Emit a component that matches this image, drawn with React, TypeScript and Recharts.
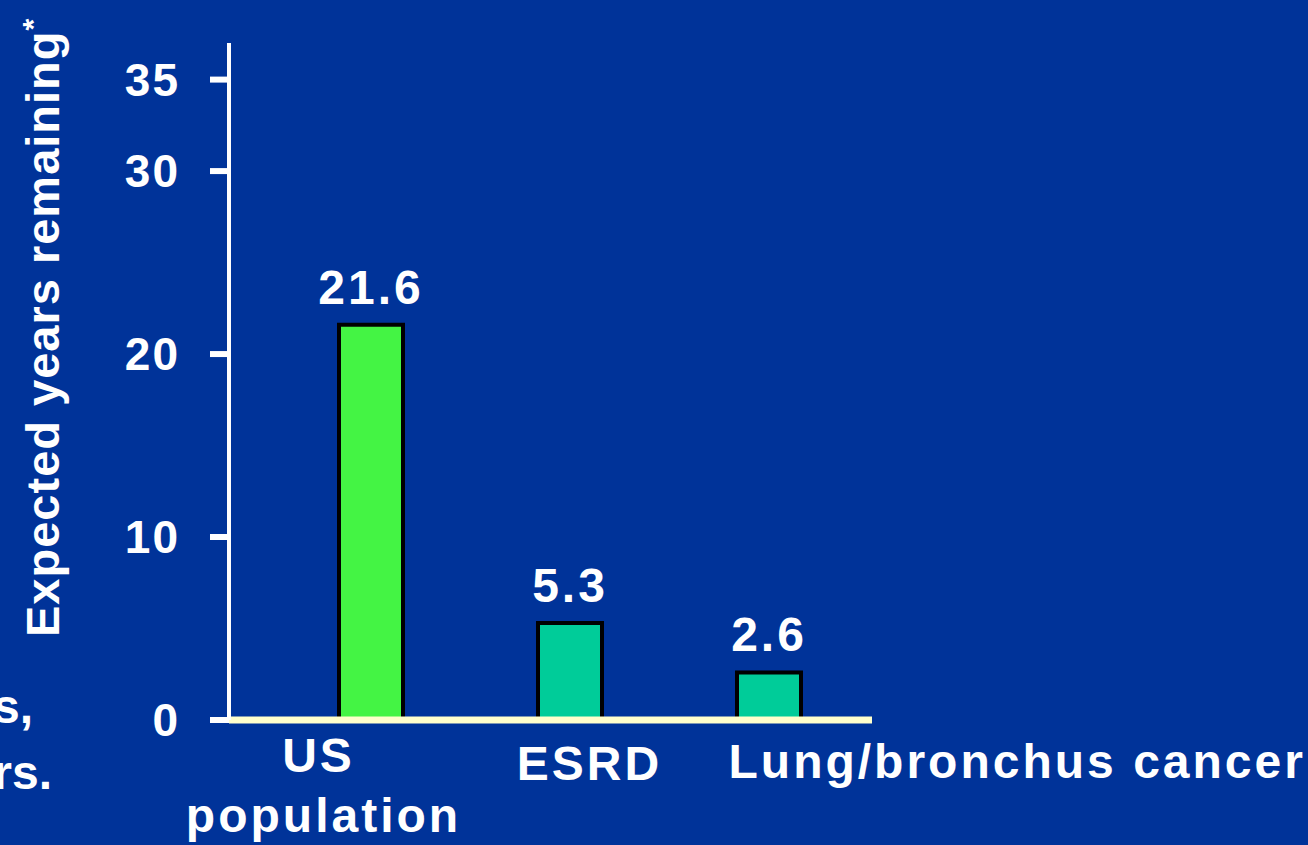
import { BarChart, Bar, XAxis, YAxis, Cell, LabelList } from "recharts";

const categories = ["US population", "ESRD", "Lung/bronchus cancer"];
const yearsRemaining = [21.6, 5.3, 2.6];
const barColors = ["#44F444", "#00CC99", "#00CC99"];
const yTicks = [0, 10, 20, 30, 35];

const FONT = "'Liberation Sans', Arial, sans-serif";
const BG = "#003399";

const data = categories.map((name, i) => ({ name, value: yearsRemaining[i] }));

// label placement under each bar, as in the slide
function CategoryTick(props: any) {
  const { x, y, payload, index } = props;
  const style = { letterSpacing: 3 };
  const common = { fill: "#FFFFFF", fontSize: 48, fontWeight: 700, fontFamily: FONT, style };
  if (index === 0) {
    return (
      <g>
        <text {...common} x={x - 52} y={y + 52} textAnchor="middle">US</text>
        <text {...common} x={x - 47} y={y + 112} textAnchor="middle">population</text>
      </g>
    );
  }
  if (index === 1) {
    return (
      <text {...common} x={x + 20} y={y + 60} textAnchor="middle">
        {payload.value}
      </text>
    );
  }
  return (
    <text {...common} x={x - 40} y={y + 58} textAnchor="start">
      {payload.value}
    </text>
  );
}

export default function App() {
  return (
    <div
      style={{
        position: "fixed",
        left: 0,
        top: 0,
        width: 1308,
        height: 845,
        background: BG,
        overflow: "hidden",
      }}
    >
      <BarChart
        width={1308}
        height={845}
        data={data}
        margin={{ top: 43, right: 436, bottom: 0, left: 0 }}
        barSize={64}
      >
        <XAxis
          dataKey="name"
          padding={{ left: 42, right: 4 }}
          axisLine={{ stroke: "#FFFFCC", strokeWidth: 7 }}
          tickLine={false}
          tickSize={0}
          tickMargin={0}
          interval={0}
          tick={<CategoryTick />}
          height={125}
        />
        <YAxis
          domain={[0, 37]}
          ticks={yTicks}
          width={229}
          axisLine={{ stroke: "#FFFFFF", strokeWidth: 4 }}
          tickLine={{ stroke: "#FFFFFF", strokeWidth: 6 }}
          tickSize={19}
          tickMargin={30}
          tick={{ fill: "#FFFFFF", fontSize: 46, fontWeight: 700, fontFamily: FONT, letterSpacing: 2 } as any}
          label={{
            content: () => (
              <text
                x={59}
                y={637}
                transform="rotate(-90, 59, 637)"
                fill="#FFFFFF"
                fontSize={47}
                fontWeight={700}
                fontFamily={FONT}
                style={{ letterSpacing: 1 }}
              >
                Expected years remaining
                <tspan fontSize={30} dy={-16}>*</tspan>
              </text>
            ),
          }}
        />
        <Bar dataKey="value" stroke="#000000" strokeWidth={4} isAnimationActive={false}>
          {data.map((d, i) => (
            <Cell key={d.name} fill={barColors[i]} />
          ))}
          <LabelList
            dataKey="value"
            position="top"
            offset={21}
            fill="#FFFFFF"
            fontSize={48}
            fontWeight={700}
            fontFamily={FONT}
            style={{ letterSpacing: 3 }}
          />
        </Bar>
        <text x={33} y={723} textAnchor="end" fill="#FFFFFF" fontSize={48} fontWeight={700} fontFamily={FONT}>
          s,
        </text>
        <text x={52} y={789} textAnchor="end" fill="#FFFFFF" fontSize={48} fontWeight={700} fontFamily={FONT}>
          rs.
        </text>
      </BarChart>
    </div>
  );
}
